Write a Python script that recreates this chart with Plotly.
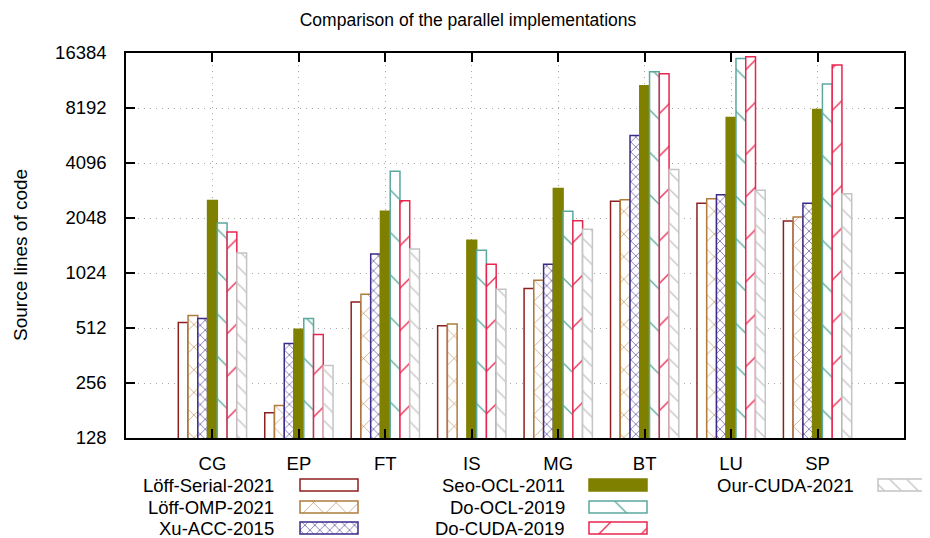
import plotly.graph_objects as go
import math

W, H = 930, 538
OFF = 8  # default page body margin

categories = ["CG", "EP", "FT", "IS", "MG", "BT", "LU", "SP"]
series_names = ["Löff-Serial-2021", "Löff-OMP-2021", "Xu-ACC-2015", "Seo-OCL-2011",
                "Do-OCL-2019", "Do-CUDA-2019", "Our-CUDA-2021"]

loff_serial = [549, 176, 711, 526, 842, 2533, 2470, 1970]
loff_omp = [599, 193, 783, 539, 934, 2578, 2610, 2072]
xu_acc = [577, 421, 1301, None, 1143, 5788, 2745, 2470]
seo_ocl = [2555, 504, 2233, 1545, 2971, 10860, 7260, 8027]
do_ocl = [1920, 577, 3694, 1362, 2233, 12950, 15300, 11090]
do_cuda = [1715, 471, 2546, 1143, 1980, 12630, 15640, 14090]
our_cuda = [1317, 319, 1385, 834, 1775, 3775, 2908, 2780]

y_ticks = [128, 256, 512, 1024, 2048, 4096, 8192, 16384]

series_values = [loff_serial, loff_omp, xu_acc, seo_ocl, do_ocl, do_cuda, our_cuda]

styles = [
    dict(color="#8e1f1f", shape="", size=10, solid=0.1, fill="white"),
    dict(color="#b07c3e", shape="x", size=16, solid=0.07, fill="white"),
    dict(color="#3b2a8a", shape="x", size=7, solid=0.16, fill="white"),
    dict(color="#808000", shape="", size=10, solid=0.1, fill="#808000"),
    dict(color="#5aa89e", shape="\\", size=30, solid=0.045, fill="white"),
    dict(color="#e8254f", shape="/", size=30, solid=0.045, fill="white"),
    dict(color="#c4c4c4", shape="\\", size=12, solid=0.11, fill="white"),
]

FONT = "Liberation Sans, Arial, Helvetica, sans-serif"

FW, FH = W - OFF, H - OFF
# plot area in window pixels
L, R, T, B = 126, 904, 53, 438


def px(x):
    return (x - OFF) / FW


def py(y):
    return 1 - (y - OFF) / FH


fig = go.Figure()

for name, vals, st in zip(series_names, series_values, styles):
    marker = dict(color=st["fill"], line=dict(color=st["color"], width=1.5))
    if st["shape"]:
        marker["pattern"] = dict(shape=st["shape"], size=st["size"], solidity=st["solid"],
                                 fgcolor=st["color"], bgcolor="white", fillmode="replace")
    fig.add_trace(go.Bar(x=categories, y=vals, name=name, marker=marker,
                         showlegend=False, xaxis="x", yaxis="y"))

# custom gnuplot-style legend (text, then sample box)
leg_cols_text = [276, 567, 856]
leg_cols_box = [300, 589, 878]
leg_rows = [485, 507, 528]
box_w, box_h = 58, 12
annotations = []
for i, (name, st) in enumerate(zip(series_names, styles)):
    col, row = divmod(i, 3)
    yc = leg_rows[row]
    annotations.append(dict(text=name, x=px(leg_cols_text[col]), y=py(yc), xref="paper", yref="paper",
                            xanchor="right", yanchor="middle", showarrow=False,
                            font=dict(family=FONT, size=18.5, color="black")))
    marker = dict(color=st["fill"], line=dict(color=st["color"], width=1.5))
    if st["shape"]:
        marker["pattern"] = dict(shape=st["shape"], size=st["size"], solidity=st["solid"],
                                 fgcolor=st["color"], bgcolor="white", fillmode="replace")
    fig.add_trace(go.Bar(x=[leg_cols_box[col]], y=[box_h], base=[yc - box_h / 2], width=[box_w],
                         offset=0, marker=marker, showlegend=False, hoverinfo="skip",
                         xaxis="x2", yaxis="y2"))

annotations.append(dict(text="Source lines of code", x=px(20), y=py(255), xref="paper", yref="paper",
                        textangle=-90, xanchor="center", yanchor="middle", showarrow=False,
                        font=dict(family=FONT, size=19, color="black")))

legend_top = 446.0
fig.update_layout(
    width=FW, height=FH,
    margin=dict(l=0, r=0, t=0, b=0),
    paper_bgcolor="white", plot_bgcolor="white",
    barmode="group", bargap=0.21, bargroupgap=0.0,
    font=dict(family=FONT, size=18.5, color="black"),
    title=dict(text="Comparison of the parallel implementations", x=px(468), xanchor="center",
               y=py(20), yanchor="middle", font=dict(family=FONT, size=17.5, color="black")),
    xaxis=dict(type="category", categoryorder="array", categoryarray=categories,
               range=[-1, 8], domain=[px(L), px(R)], anchor="y",
               showline=True, linecolor="black", linewidth=1.5, mirror="ticks",
               ticks="inside", ticklen=9, tickwidth=1.5, tickcolor="black",
               showgrid=True, gridcolor="#a8a8a8", gridwidth=1, griddash="1px,5px",
               zeroline=False, automargin=False, ticklabelstandoff=8,
               tickfont=dict(family=FONT, size=18.5, color="black")),
    yaxis=dict(type="log", range=[math.log10(128), math.log10(16384)],
               domain=[py(B), py(T)], anchor="x",
               tickvals=y_ticks, ticktext=[str(v) for v in y_ticks],
               showline=True, linecolor="black", linewidth=1.5, mirror="ticks",
               ticks="inside", ticklen=9, tickwidth=1.5, tickcolor="black",
               showgrid=True, gridcolor="#a8a8a8", gridwidth=1, griddash="1px,5px",
               zeroline=False, automargin=False, ticklabelstandoff=14,
               tickfont=dict(family=FONT, size=18.5, color="black")),
    xaxis2=dict(range=[OFF, W], domain=[0, 1], anchor="y2", visible=False, fixedrange=True),
    yaxis2=dict(range=[H, legend_top], domain=[0, py(legend_top)], anchor="x2",
                visible=False, fixedrange=True),
    annotations=annotations,
)

fig.write_html("out.html")
